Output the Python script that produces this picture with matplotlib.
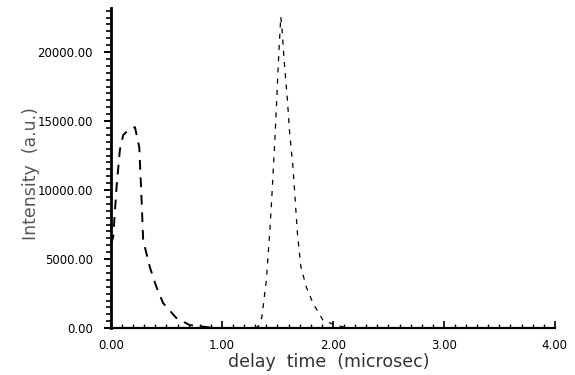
import matplotlib
matplotlib.use('Agg')
import matplotlib.pyplot as plt
from matplotlib.ticker import MultipleLocator, FormatStrFormatter

# first peak (bold dashed curve)
t1 = [0.00, 0.02, 0.05, 0.08, 0.11, 0.15, 0.19, 0.216, 0.255, 0.276, 0.29, 0.35,
      0.41, 0.47, 0.59, 0.71, 0.82, 0.90, 1.00]
i1 = [6100, 6600, 10200, 12900, 13990, 14300, 14450, 14560, 13100, 9280, 6380, 4420,
      2970, 1810, 725, 220, 120, 30, 0]

# second peak (thin dashed curve)
t2 = [1.30, 1.33, 1.36, 1.40, 1.43, 1.448, 1.48, 1.51, 1.53, 1.54, 1.56, 1.59,
      1.61, 1.64, 1.66, 1.68, 1.71, 1.76, 1.82, 1.91, 2.02, 2.10, 2.20, 4.00]
i2 = [0, 150, 800, 3480, 6880, 9280, 14130, 19500, 22560, 21830, 19420, 16520,
      14130, 11670, 9280, 6880, 4500, 2970, 1810, 580, 220, 80, 0, 0]

fig = plt.figure(figsize=(5.75, 3.75), dpi=100)
ax = fig.add_axes([0.193, 0.125, 0.772, 0.854])

ax.plot(t1, i1, color='black', lw=1.4, linestyle=(0, (5, 4)))
ax.plot(t2, i2, color='black', lw=0.9, linestyle=(0, (4, 5)))
ax.plot([0.9, 4.0], [0, 0], color='black', lw=1.2)

ax.set_xlim(0, 4.0)
ax.set_ylim(0, 23200)

for s in ['top', 'right']:
    ax.spines[s].set_visible(False)
ax.spines['left'].set_linewidth(2.0)
ax.spines['bottom'].set_linewidth(1.6)

ax.xaxis.set_major_locator(MultipleLocator(1.0))
ax.xaxis.set_minor_locator(MultipleLocator(0.1))
ax.yaxis.set_major_locator(MultipleLocator(5000))
ax.yaxis.set_minor_locator(MultipleLocator(500))
ax.xaxis.set_major_formatter(FormatStrFormatter('%.2f'))
ax.yaxis.set_major_formatter(FormatStrFormatter('%.2f'))

ax.tick_params(axis='x', which='major', direction='in', length=5, width=1.2, labelsize=8.5, pad=8)
ax.tick_params(axis='x', which='minor', direction='in', length=3, width=1)
ax.tick_params(axis='y', which='major', direction='out', length=5, width=1.4, labelsize=8.5, pad=8)
ax.tick_params(axis='y', which='minor', direction='out', length=3.5, width=1.2)

ax.set_xlabel('delay  time  (microsec)', fontsize=12.5, color='#333333')
ax.set_ylabel('Intensity  (a.u.)', fontsize=12.5, color='#555555')
ax.xaxis.set_label_coords(0.49, -0.078)
ax.yaxis.set_label_coords(-0.16, 0.484)

fig.savefig('out.png', dpi=100)
